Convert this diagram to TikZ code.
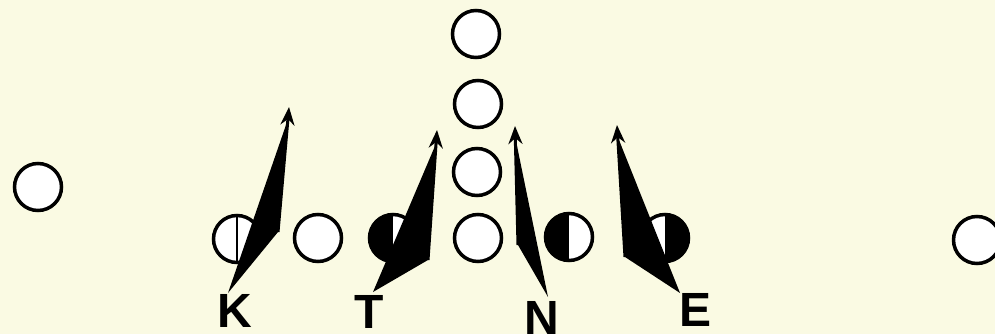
\documentclass[tikz,border=0pt]{standalone}
\usepackage{fontspec}
\setmainfont{Liberation Sans}
\usetikzlibrary{arrows.meta}
\definecolor{field}{RGB}{250,250,227}
\tikzset{
  player/.style={circle, draw=black, fill=white, line width=3.5pt, minimum size=47pt, inner sep=0pt},
  lefthalf/.style={path picture={\fill[black] (path picture bounding box.south west) rectangle (path picture bounding box.north);}},
  righthalf/.style={path picture={\fill[black] (path picture bounding box.north) rectangle (path picture bounding box.south east);}},
  splitline/.style={path picture={\draw[black, line width=2.5pt] (path picture bounding box.north) -- (path picture bounding box.south);}},
  route/.style={line width=3pt, -{Stealth[open,length=18pt,width=14pt]}},
  tag/.style={anchor=base, font=\bfseries\fontsize{48}{48}\selectfont},
}

\begin{document}
\begin{tikzpicture}[x=1pt, y=-1pt]
      % field
      \fill[field] (0,0) rectangle (995,334);
      \useasboundingbox (0,0) rectangle (995,334);
      % backs
      \node[player] (back3) at (476,34) {};
      \node[player] (back2) at (478,104) {};
      \node[player] (back1) at (477,172) {};
      % wide players
      \node[player] (wideL) at (38,187) {};
      \node[player] (wideR) at (977,240) {};
      % line
      \node[player, splitline] (lineK) at (237,239) {};
      \node[player] (guardL) at (318,238) {};
      \node[player, lefthalf] (lineT) at (393,238) {};
      \node[player] (center) at (478,238) {};
      \node[player, lefthalf] (lineN) at (569,237) {};
      \node[player, righthalf] (lineE) at (665,238) {};
      % route points
      \coordinate (kA) at (228,293);
      \coordinate (kB) at (278,232);
      \coordinate (kC) at (287,122);
      \coordinate (kTip) at (289,107);
      \coordinate (tA) at (373,292);
      \coordinate (tB) at (428,260);
      \coordinate (tC) at (435,146);
      \coordinate (tTip) at (437,130);
      \coordinate (nA) at (548,297);
      \coordinate (nB) at (518,245);
      \coordinate (nC) at (516,141);
      \coordinate (nTip) at (515,126);
      \coordinate (eA) at (680,293);
      \coordinate (eB) at (625,257);
      \coordinate (eC) at (619,140);
      \coordinate (eTip) at (617,125);
      % stunts
      \fill (kA) -- (kB) -- (kC) -- cycle;
      \draw[route] (kB) -- (kTip);
      \fill (tA) -- (tB) -- (tC) -- cycle;
      \draw[route] (tB) -- (tTip);
      \fill (nA) -- (nB) -- (nC) -- cycle;
      \draw[route] (nB) -- (nTip);
      \fill (eA) -- (eB) -- (eC) -- cycle;
      \draw[route] (eB) -- (eTip);
      % labels
      \node[tag] (K) at (235,327) {K};
      \node[tag] (T) at (369,328) {T};
      \node[tag] (N) at (542,334) {N};
      \node[tag] (E) at (695,326) {E};
\end{tikzpicture}
\end{document}
